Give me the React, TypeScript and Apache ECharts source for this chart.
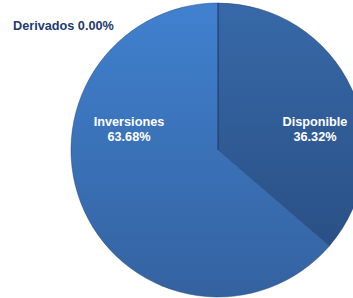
import React, { useEffect, useRef } from "react";
import * as echarts from "echarts";

const categories = ["Disponible", "Inversiones", "Derivados"];
const values = [36.32, 63.68, 0];
const labelPos: Array<[number, number, string]> = [
  [315, 129, "center"],
  [129, 129, "center"],
  [13, 26, "left"],
];

export default function App() {
  const ref = useRef<HTMLDivElement>(null);
  useEffect(() => {
    document.body.style.margin = "0";
    const chart = echarts.init(ref.current!, null, { renderer: "svg" });
    const total = values.reduce((a, b) => a + b, 0);
    const grads = [
      new echarts.graphic.LinearGradient(0, 0, 0, 1, [
        { offset: 0, color: "#3769a8" },
        { offset: 1, color: "#2a5086" },
      ]),
      new echarts.graphic.LinearGradient(0, 0, 0, 1, [
        { offset: 0, color: "#4081cf" },
        { offset: 1, color: "#3462a0" },
      ]),
      "#3a6fb5",
    ];
    chart.setOption({
      animation: false,
      series: [
        {
          type: "pie",
          center: [218, 150],
          radius: [0, 147],
          startAngle: 90,
          clockwise: true,
          itemStyle: { borderColor: "rgba(35,65,110,0.6)", borderWidth: 0.8 },
          label: {
            show: true,
            position: "inside",
            color: "#ffffff",
            fontWeight: "bold",
            fontSize: 12.7,
            lineHeight: 15,
            fontFamily: "Arial, 'Liberation Sans', sans-serif",
            formatter: (p: any) => {
              const pct = ((p.value / total) * 100).toFixed(2) + "%";
              return p.dataIndex === 2 ? `${p.name} ${pct}` : `${p.name}\n${pct}`;
            },
          },
          labelLine: { show: false },
          labelLayout: (p: any) => {
            const [x, y, align] = labelPos[p.dataIndex];
            return { x, y, align, verticalAlign: "middle" };
          },
          emphasis: { disabled: true },
          data: categories.map((name, i) => ({
            name,
            value: values[i],
            itemStyle: { color: grads[i] },
            label: i === 2 ? { color: "#1f3a6e" } : undefined,
          })),
        },
      ],
    });
    return () => chart.dispose();
  }, []);
  return <div ref={ref} style={{ width: 353, height: 298 }} />;
}
